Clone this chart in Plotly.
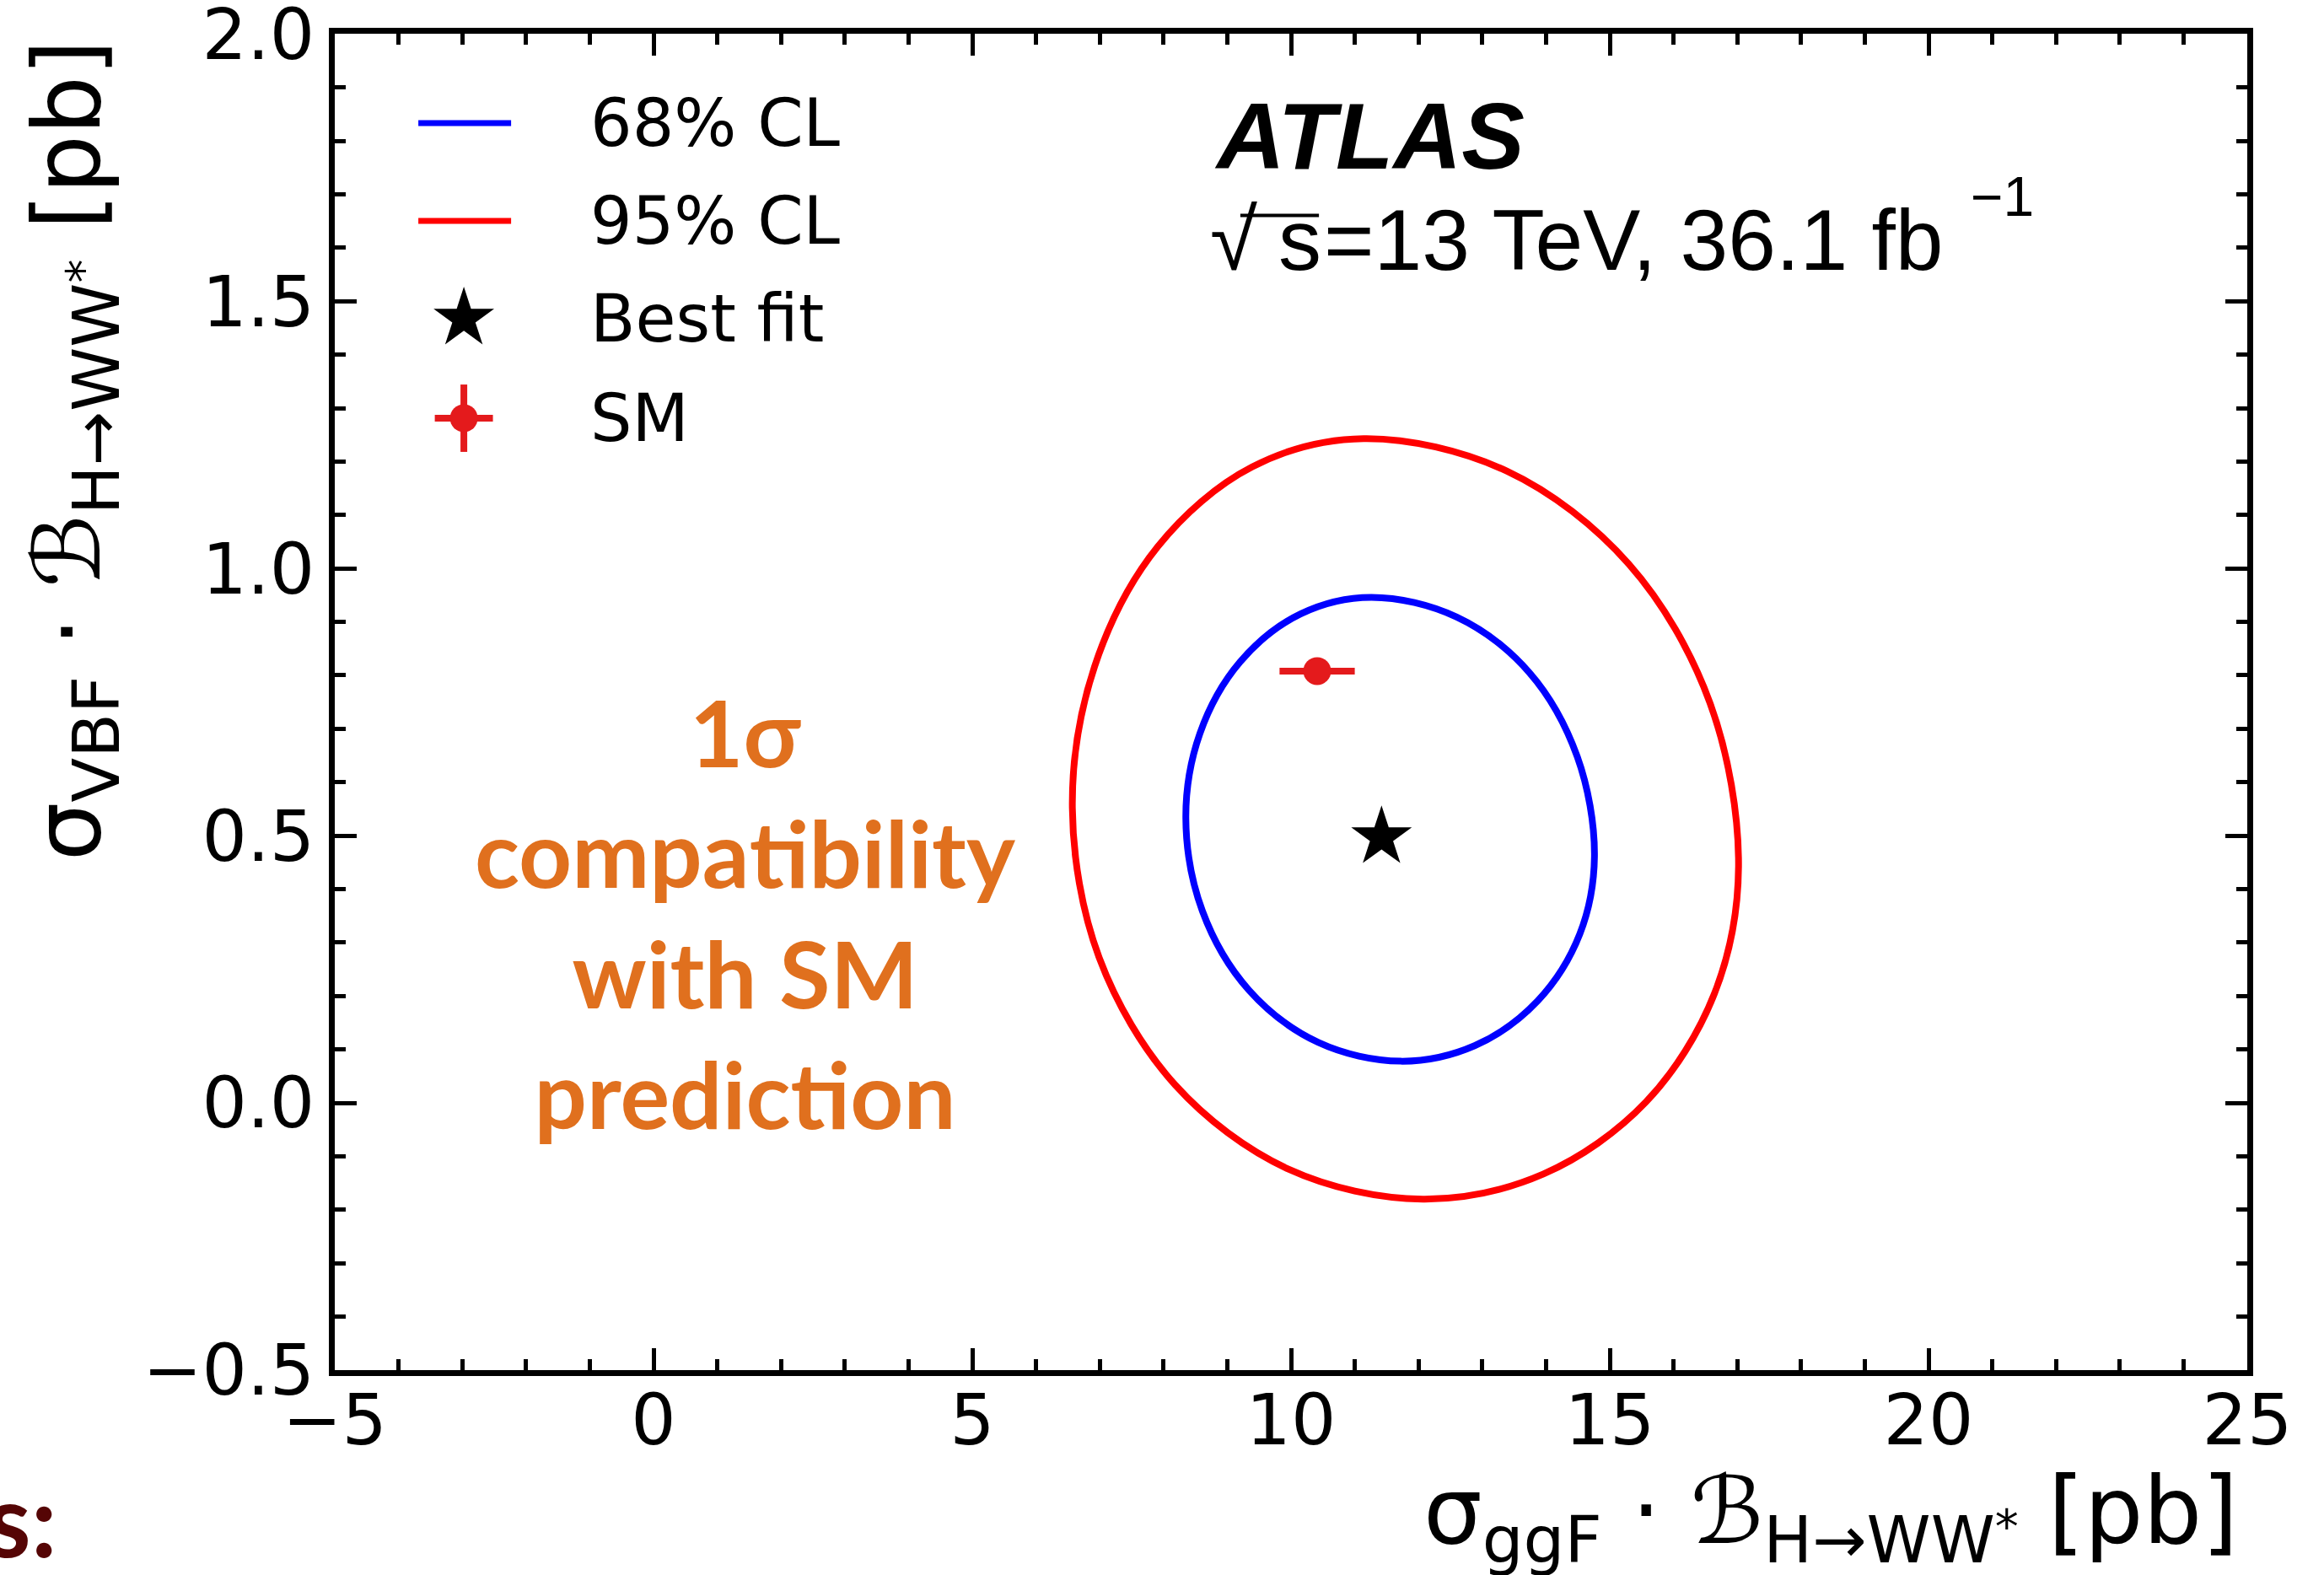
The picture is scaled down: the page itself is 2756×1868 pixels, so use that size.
import plotly.graph_objects as go

# ---------------- data ----------------
# 68% CL contour (sigma_ggF*B [pb], sigma_VBF*B [pb])
cl68_x = [11.26, 12.60, 13.74, 14.49, 14.76, 14.53, 13.87, 12.88, 11.72,
          10.43, 9.34, 8.61, 8.35, 8.57, 9.20, 10.15, 11.26]
cl68_y = [0.946, 0.909, 0.805, 0.648, 0.464, 0.316, 0.191, 0.107, 0.078,
          0.113, 0.211, 0.359, 0.533, 0.691, 0.825, 0.915, 0.946]
# 95% CL contour
cl95_x = [11.14, 13.39, 15.30, 16.57, 17.02, 16.64, 15.57, 13.96, 12.07,
          9.96, 8.18, 6.99, 6.57, 6.92, 7.91, 9.39, 11.14]
cl95_y = [1.243, 1.182, 1.008, 0.749, 0.442, 0.204, 0.002, -0.133, -0.180,
          -0.124, 0.034, 0.272, 0.552, 0.817, 1.041, 1.190, 1.243]
# best fit
best_x = [11.42]
best_y = [0.497]
# SM prediction
sm_x = [10.41]
sm_y = [0.808]
sm_xerr = [0.59]
sm_yerr = [0.02]

legend_labels = ["68% CL", "95% CL", "Best fit", "SM"]
x_ticks = [-5, 0, 5, 10, 15, 20, 25]
y_ticks = [-0.5, 0.0, 0.5, 1.0, 1.5, 2.0]
y_ticktext = ["−0.5", "0.0", "0.5", "1.0", "1.5", "2.0"]

# ---------------- styles ----------------
BLUE = "#0000ff"
RED = "#ff0000"
SMRED = "#e41a1c"
ORANGE = "#e0701e"
ZWNJ = "\u200c"

fig = go.Figure()

fig.add_trace(go.Scatter(x=cl68_x, y=cl68_y, mode="lines",
                         line=dict(color=BLUE, width=8, shape="spline", smoothing=1.0),
                         name=legend_labels[0], showlegend=False))
fig.add_trace(go.Scatter(x=cl95_x, y=cl95_y, mode="lines",
                         line=dict(color=RED, width=8, shape="spline", smoothing=1.0),
                         name=legend_labels[1], showlegend=False))
fig.add_trace(go.Scatter(x=best_x, y=best_y, mode="markers",
                         marker=dict(symbol="star", size=54, color="black"),
                         name=legend_labels[2], showlegend=False))
fig.add_trace(go.Scatter(x=sm_x, y=sm_y, mode="markers",
                         marker=dict(symbol="circle", size=33, color=SMRED),
                         error_x=dict(type="data", array=sm_xerr, color=SMRED, thickness=8, width=0),
                         error_y=dict(type="data", array=sm_yerr, color=SMRED, thickness=8, width=0),
                         name=legend_labels[3], showlegend=False))

# ---------------- hand-drawn legend on an overlay (0..1) axis ----------------
leg_x0, leg_x1, leg_xc = 0.0437, 0.0922, 0.0675
leg_rows = [0.9331, 0.8599, 0.7868, 0.7123]
leg_text_x = 0.1327

fig.add_trace(go.Scatter(x=[leg_x0, leg_x1], y=[leg_rows[0]] * 2, mode="lines",
                         line=dict(color=BLUE, width=7), xaxis="x2", yaxis="y2",
                         showlegend=False, hoverinfo="skip"))
fig.add_trace(go.Scatter(x=[leg_x0, leg_x1], y=[leg_rows[1]] * 2, mode="lines",
                         line=dict(color=RED, width=7), xaxis="x2", yaxis="y2",
                         showlegend=False, hoverinfo="skip"))
fig.add_trace(go.Scatter(x=[leg_xc], y=[leg_rows[2]], mode="markers",
                         marker=dict(symbol="star", size=54, color="black"),
                         xaxis="x2", yaxis="y2", showlegend=False, hoverinfo="skip"))
fig.add_trace(go.Scatter(x=[leg_xc], y=[leg_rows[3]], mode="markers",
                         marker=dict(symbol="circle", size=33, color=SMRED),
                         error_x=dict(type="constant", value=0.0152, color=SMRED, thickness=8, width=0),
                         error_y=dict(type="constant", value=0.0252, color=SMRED, thickness=8, width=0),
                         xaxis="x2", yaxis="y2", showlegend=False, hoverinfo="skip"))

annotations = []
for lab, yy in zip(legend_labels, leg_rows):
    annotations.append(dict(xref="paper", yref="paper", x=leg_text_x, y=yy,
                            xanchor="left", yanchor="middle", showarrow=False,
                            text=lab, font=dict(family="DejaVu Sans", size=78, color="black")))

# ATLAS label
annotations.append(dict(xref="paper", yref="paper", x=0.4589, y=0.9231,
                        xanchor="left", yanchor="middle", showarrow=False,
                        text="<b><i>ATLAS</i></b>",
                        font=dict(family="Liberation Sans", size=112, color="black")))
# energy / luminosity line, built from pieces
E_FONT = dict(family="Liberation Sans", size=102, color="black")
E_Y = 0.8452
annotations.append(dict(xref="paper", yref="paper", x=0.4566, y=E_Y,
                        xanchor="left", yanchor="middle", showarrow=False,
                        text="√", font=E_FONT))
annotations.append(dict(xref="paper", yref="paper", x=0.4925, y=E_Y,
                        xanchor="left", yanchor="middle", showarrow=False,
                        text="s", font=E_FONT))
annotations.append(dict(xref="paper", yref="paper", x=0.5165, y=E_Y,
                        xanchor="left", yanchor="middle", showarrow=False,
                        text="=13 TeV, 36.1 fb", font=E_FONT))
annotations.append(dict(xref="paper", yref="paper", x=0.8545, y=0.8780,
                        xanchor="left", yanchor="middle", showarrow=False,
                        text="−1", font=dict(family="Liberation Sans", size=66, color="black")))

shapes = [dict(type="line", xref="paper", yref="paper",
               x0=0.4735, x1=0.5146, y0=0.8640, y1=0.8640,
               line=dict(color="black", width=4))]

# orange comment
annotations.append(dict(xref="paper", yref="paper", x=0.2147, y=0.3432,
                        xanchor="center", yanchor="middle", showarrow=False, align="center",
                        text="<b>1σ<br>compa" + ZWNJ + "tibility<br>with SM<br>predic" + ZWNJ + "tion</b>",
                        font=dict(family="Lato", size=110, color=ORANGE)))

# partial slide text at the bottom-left
annotations.append(dict(xref="paper", yref="paper", x=-0.1442, y=-0.111,
                        xanchor="right", yanchor="middle", showarrow=False,
                        text="<b>s:</b>",
                        font=dict(family="Lato", size=120, color="#550505")))

# axis titles
STAR = "<span style='font-size:56px'>*</span>"
annotations.append(dict(xref="paper", yref="paper", x=0.996, y=-0.110,
                        xanchor="right", yanchor="middle", showarrow=False,
                        text="σ<sub>ggF</sub> · ℬ<sub>H→WW</sub>" + STAR + " [pb]",
                        font=dict(family="DejaVu Sans", size=110, color="black")))
annotations.append(dict(xref="paper", yref="paper", x=-0.1365, y=0.997,
                        xanchor="center", yanchor="top", showarrow=False, textangle=-90,
                        text="σ<sub>VBF</sub> · ℬ<sub>H→WW</sub>" + STAR + " [pb]",
                        font=dict(family="DejaVu Sans", size=110, color="black")))

axis_common = dict(showgrid=False, zeroline=False, showline=True, linecolor="black",
                   linewidth=7, mirror="allticks", ticks="inside", ticklen=26,
                   tickwidth=5, tickcolor="black", ticklabeloverflow="allow",
                   automargin=False,
                   tickfont=dict(family="DejaVu Sans", size=84, color="black"))

fig.update_layout(
    width=2756, height=1868,
    margin=dict(l=397, r=91, t=40, b=243, autoexpand=False),
    paper_bgcolor="white", plot_bgcolor="white",
    showlegend=False,
    xaxis=dict(range=[-5, 25], tickmode="array", tickvals=x_ticks,
               ticklabelstandoff=-20,
               minor=dict(dtick=1, tick0=-5, ticklen=13, tickwidth=5, tickcolor="black", ticks="inside"),
               **axis_common),
    yaxis=dict(range=[-0.5, 2.0005], tickmode="array", tickvals=y_ticks, ticktext=y_ticktext,
               minor=dict(dtick=0.1, tick0=-0.5, ticklen=13, tickwidth=5, tickcolor="black", ticks="inside"),
               **axis_common),
    xaxis2=dict(range=[0, 1], overlaying="x", visible=False, fixedrange=True),
    yaxis2=dict(range=[0, 1], overlaying="y", visible=False, fixedrange=True),
    annotations=annotations,
    shapes=shapes,
)

fig.write_html("out.html")
